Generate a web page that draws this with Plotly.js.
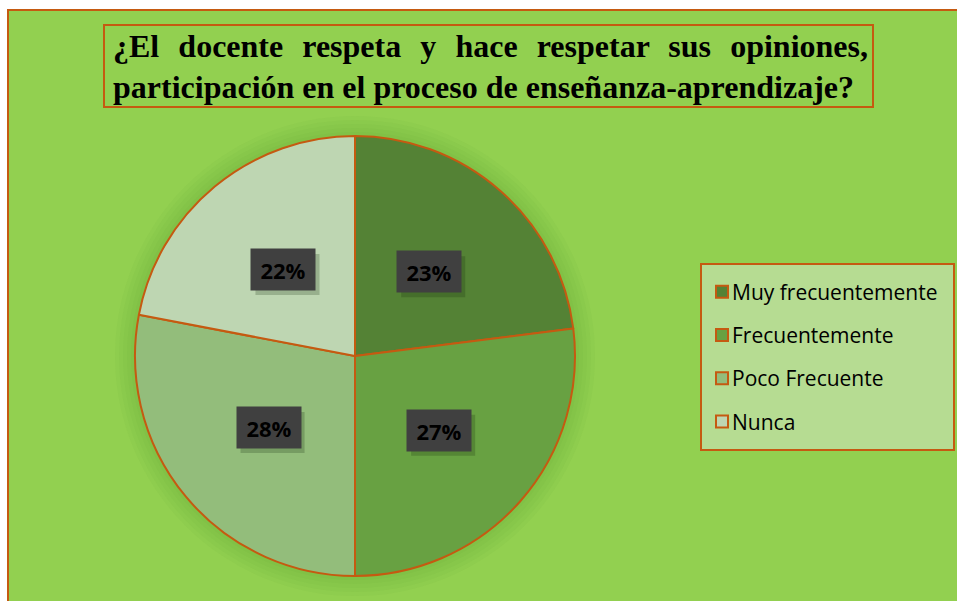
<!DOCTYPE html>
<html>
<head>
<meta charset="utf-8">
<script src="https://cdn.plot.ly/plotly-3.0.1.min.js"></script>
<style>html,body{margin:0;padding:0;background:#fff;}#chart{width:957px;height:601px;}</style>
</head>
<body>
<div id="chart"></div>
<script>
const categories = ['Muy frecuentemente', 'Frecuentemente', 'Poco Frecuente', 'Nunca'];
const values = [23, 27, 28, 22];
const percentLabels = ['23%', '27%', '28%', '22%'];
const sliceColors = ['#548235', '#68A142', '#93BD7B', '#BED6B2'];
const titleLines = ['¿El docente respeta y hace respetar sus opiniones,', 'participación en el proceso de enseñanza-aprendizaje?'];

const W = 957, H = 601;
const ORANGE = '#C55A11';
const cx = 355, cy = 356, R = 220;
const px = x => x / W;
const py = y => 1 - y / H;

const total = values.reduce((a, b) => a + b, 0);

const trace = {
  type: 'pie',
  labels: categories.map(c => '<span style="font-size:21px">' + c + '</span>'),
  values: values,
  sort: false,
  direction: 'clockwise',
  rotation: 0,
  textinfo: 'none',
  hoverinfo: 'none',
  marker: { colors: sliceColors, line: { color: ORANGE, width: 2 } },
  domain: { x: [px(cx - R), px(cx + R)], y: [py(cy + R), py(cy - R)] }
};

const shapes = [
  { type: 'rect', xref: 'paper', yref: 'paper', x0: px(8), x1: 1.02, y0: -0.02, y1: py(10),
    fillcolor: '#92D050', line: { color: ORANGE, width: 2 }, layer: 'below' },
  { type: 'rect', xref: 'paper', yref: 'paper', x0: px(104), x1: px(873), y0: py(107), y1: py(25),
    fillcolor: 'rgba(0,0,0,0)', line: { color: ORANGE, width: 2 }, layer: 'below' }
];
// soft halo around pie
for (let k = 5; k >= 1; k--) {
  const rr = R + k * 4;
  shapes.push({ type: 'circle', xref: 'paper', yref: 'paper',
    x0: px(cx - rr), x1: px(cx + rr), y0: py(cy + rr), y1: py(cy - rr),
    fillcolor: 'rgba(70,130,40,0.045)', line: { width: 0 }, layer: 'below' });
}

// percent labels placed at slice mid-angles
const annotations = [];
let cum = 0;
values.forEach((v, i) => {
  const mid = (cum + v / 2) / total * 2 * Math.PI;
  cum += v;
  const lx = cx + 0.51 * R * Math.sin(mid);
  const ly = cy - 0.51 * R * Math.cos(mid);
  shapes.push({ type: 'rect', xref: 'paper', yref: 'paper',
    x0: px(lx - 32 + 4), x1: px(lx + 32 + 4), y0: py(ly + 20.5 + 5), y1: py(ly - 20.5 + 5),
    fillcolor: 'rgba(20,40,10,0.22)', line: { width: 0 }, layer: 'above' });
  annotations.push({
    xref: 'paper', yref: 'paper', x: px(lx), y: py(ly), xanchor: 'center', yanchor: 'middle',
    text: '<b>' + percentLabels[i] + '</b>', showarrow: false,
    font: { family: 'Open Sans', size: 22, color: '#000' },
    bgcolor: '#404040', width: 60, height: 37, borderpad: 2
  });
});

// title lines
annotations.push({
  xref: 'paper', yref: 'paper', x: px(111), y: py(46), xanchor: 'left', yanchor: 'middle', align: 'left',
  text: '<b>' + titleLines[0] + '</b>', showarrow: false,
  font: { family: 'Liberation Serif', size: 32, color: '#000' }
});
annotations.push({
  xref: 'paper', yref: 'paper', x: px(111), y: py(87), xanchor: 'left', yanchor: 'middle', align: 'left',
  text: '<b>' + titleLines[1] + '</b>', showarrow: false,
  font: { family: 'Liberation Serif', size: 32, color: '#000' }
});

const layout = {
  width: W, height: H,
  margin: { l: 0, r: 0, t: 0, b: 0 },
  paper_bgcolor: '#ffffff',
  showlegend: true,
  legend: {
    x: px(700), y: py(263), xanchor: 'left', yanchor: 'top',
    bgcolor: '#B6DC92', bordercolor: ORANGE, borderwidth: 2,
    font: { family: 'Open Sans', size: 31, color: '#000' }
  },
  annotations: annotations,
  shapes: shapes
};

Plotly.newPlot('chart', [trace], layout, { displayModeBar: false, staticPlot: true }).then(() => {
  const texts = document.querySelectorAll('.annotation-text');
  const t1 = texts[texts.length - 2];
  if (t1) {
    const len = t1.getComputedTextLength();
    const gaps = titleLines[0].split(' ').length - 1;
    const ws = (755 - len) / gaps;
    t1.style.wordSpacing = ws + 'px';
  }
  document.querySelectorAll('.legendtext').forEach(el => {
    el.setAttribute('transform', 'translate(-10,-4)');
  });
});
</script>
</body>
</html>
